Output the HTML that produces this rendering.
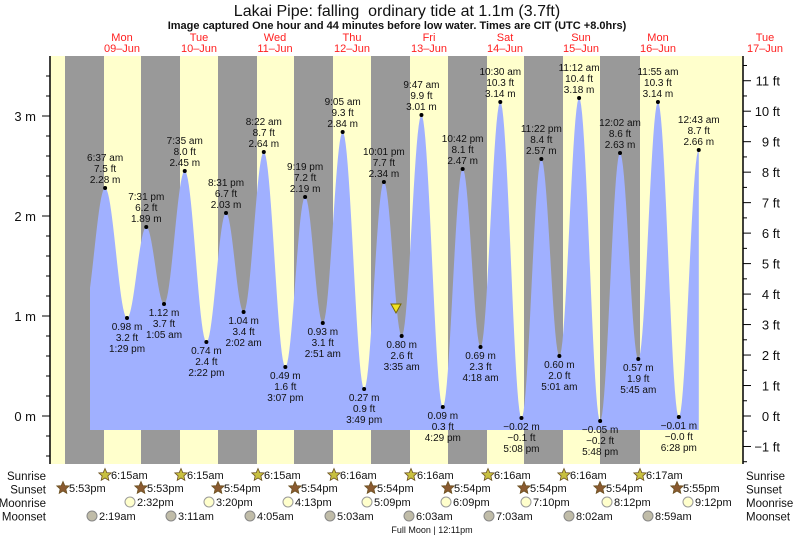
<!DOCTYPE html>
<html><head><meta charset="utf-8">
<style>
body{margin:0;background:#fff;}
svg{display:block;font-family:"Liberation Sans",sans-serif;}
</style></head>
<body>
<svg id="s" width="793" height="538" xmlns="http://www.w3.org/2000/svg">
<g id="bands"></g>
<path id="tide" fill="#a0b0ff" stroke="none"/>
<g id="lbl" font-size="10" fill="#111" text-anchor="middle"></g>
<polygon points="391,304 401,304 396,313" fill="#f0e020" stroke="#776600" stroke-width="1"/>
<g id="axes"></g>
<text x="397" y="16" font-size="16" text-anchor="middle" fill="#111">Lakai Pipe: falling&#160; ordinary tide at 1.1m (3.7ft)</text>
<text x="397" y="29" font-size="11" font-weight="bold" text-anchor="middle" fill="#111">Image captured One hour and 44 minutes before low water. Times are CIT (UTC +8.0hrs)</text>
<g id="days" font-size="11" fill="#ff2020" text-anchor="middle"></g>
<g id="bot" font-size="11" fill="#111"></g>
</svg>
<script>
var NS="http://www.w3.org/2000/svg";
function el(p,t,a,txt){var e=document.createElementNS(NS,t);for(var k in a)e.setAttribute(k,a[k]);if(txt!==undefined)e.textContent=txt;document.getElementById(p).appendChild(e);return e;}
el('bands','rect',{x:50,y:56,width:693,height:408,fill:'#ffffcc'});
[[65,104],[141,180],[218,257],[294,333],[371,410],[448,487],[524,563],[600,640]].forEach(function(b){el('bands','rect',{x:b[0],y:56,width:b[1]-b[0],height:408,fill:'#999999'});});
function X(h,m,d){return 84+(d*24+h+m/60)*3.19;}
var E=[
[6,37,0,2.28,'6:37 am','7.5 ft'],[13,29,0,0.98,'1:29 pm','3.2 ft'],[19,31,0,1.89,'7:31 pm','6.2 ft'],
[1,5,1,1.12,'1:05 am','3.7 ft'],[7,35,1,2.45,'7:35 am','8.0 ft'],[14,22,1,0.74,'2:22 pm','2.4 ft'],[20,31,1,2.03,'8:31 pm','6.7 ft'],
[2,2,2,1.04,'2:02 am','3.4 ft'],[8,22,2,2.64,'8:22 am','8.7 ft'],[15,7,2,0.49,'3:07 pm','1.6 ft'],[21,19,2,2.19,'9:19 pm','7.2 ft'],
[2,51,3,0.93,'2:51 am','3.1 ft'],[9,5,3,2.84,'9:05 am','9.3 ft'],[15,49,3,0.27,'3:49 pm','0.9 ft'],[22,1,3,2.34,'10:01 pm','7.7 ft'],
[3,35,4,0.80,'3:35 am','2.6 ft'],[9,47,4,3.01,'9:47 am','9.9 ft'],[16,29,4,0.09,'4:29 pm','0.3 ft'],[22,42,4,2.47,'10:42 pm','8.1 ft'],
[4,18,5,0.69,'4:18 am','2.3 ft'],[10,30,5,3.14,'10:30 am','10.3 ft'],[17,8,5,-0.02,'5:08 pm','\u22120.1 ft'],[23,22,5,2.57,'11:22 pm','8.4 ft'],
[5,1,6,0.60,'5:01 am','2.0 ft'],[11,12,6,3.18,'11:12 am','10.4 ft'],[17,48,6,-0.05,'5:48 pm','\u22120.2 ft'],
[0,2,7,2.63,'12:02 am','8.6 ft'],[5,45,7,0.57,'5:45 am','1.9 ft'],[11,55,7,3.14,'11:55 am','10.3 ft'],[18,28,7,-0.01,'6:28 pm','\u22120.0 ft'],
[0,43,8,2.66,'12:43 am','8.7 ft']];
function Y(m){return 416-m*100;}
var pts=[];
var x0=90,xa=X(E[0][0],E[0][1],E[0][2]);
var prevLowX=xa-(X(13,29,0)-xa);
for(var x=x0;x<=xa;x+=1){var f=(x-prevLowX)/(xa-prevLowX);var m=1.0+(2.28-1.0)*(1-Math.cos(Math.PI*f))/2;pts.push([x,Y(m)]);}
for(var i=0;i<E.length-1;i++){var a=E[i],b=E[i+1];var xa1=X(a[0],a[1],a[2]),xb=X(b[0],b[1],b[2]);
for(var x=xa1;x<=xb;x+=1){var f=(x-xa1)/(xb-xa1);var m=a[3]+(b[3]-a[3])*(1-Math.cos(Math.PI*f))/2;pts.push([x,Y(m)]);}}
var xl=X(0,43,8);pts.push([xl,Y(2.66)]);
var d='M'+x0+',430 ';pts.forEach(function(p){d+='L'+p[0].toFixed(1)+','+p[1].toFixed(1)+' ';});d+='L'+xl.toFixed(1)+',430 Z';
document.getElementById('tide').setAttribute('d',d);
E.forEach(function(e,i){var x=X(e[0],e[1],e[2]),y=Y(e[3]);el('lbl','circle',{cx:x,cy:y,r:2,fill:'#000'});
var ms=(e[3]<0?'\u2212'+(-e[3]).toFixed(2):e[3].toFixed(2))+' m';
var high=(i%2==0);
if(high){el('lbl','text',{x:x,y:y-5},ms);el('lbl','text',{x:x,y:y-16},e[5]);el('lbl','text',{x:x,y:y-27},e[4]);}
else{el('lbl','text',{x:x,y:y+12},ms);el('lbl','text',{x:x,y:y+23},e[5]);el('lbl','text',{x:x,y:y+34},e[4]);}});
el('axes','line',{x1:50,y1:56,x2:50,y2:464,stroke:'#000','stroke-width':1.5});
el('axes','line',{x1:743,y1:56,x2:743,y2:464,stroke:'#000','stroke-width':1.5});
for(var m=-0.4;m<=3.6;m+=0.2){var y=Y(m);var maj=Math.abs(m-Math.round(m))<0.01;el('axes','line',{x1:maj?42:46,y1:y,x2:50,y2:y,stroke:'#000'});
if(maj)el('axes','text',{x:36,y:y+5,'font-size':13,'text-anchor':'end',fill:'#111'},Math.round(m)+' m');}
for(var f=-1.5;f<=11.5;f+=0.5){var y=416-f*30.48;var maj=Math.abs(f-Math.round(f))<0.01;el('axes','line',{x1:743,y1:y,x2:maj?751:747,y2:y,stroke:'#000'});
if(maj)el('axes','text',{x:780,y:y+5,'font-size':13,'text-anchor':'end',fill:'#111'},(f<0?'\u2212'+(-f):f)+' ft');}
[['Mon','09\u2013Jun',122],['Tue','10\u2013Jun',199],['Wed','11\u2013Jun',275],['Thu','12\u2013Jun',352],['Fri','13\u2013Jun',429],['Sat','14\u2013Jun',505],['Sun','15\u2013Jun',581],['Mon','16\u2013Jun',658],['Tue','17\u2013Jun',765]].forEach(function(d){el('days','text',{x:d[2],y:41},d[0]);el('days','text',{x:d[2],y:52},d[1]);});
['Sunrise','Sunset','Moonrise','Moonset'].forEach(function(t,i){var y=480+i*13.5;el('bot','text',{x:46,y:y,'text-anchor':'end','font-size':11.5},t);el('bot','text',{x:746,y:y,'font-size':11.5},t);});
function star(cx,cy,fill){var p='';for(var k=0;k<10;k++){var r=k%2?3:6.5,a=-Math.PI/2+k*Math.PI/5;p+=(cx+r*Math.cos(a)).toFixed(1)+','+(cy+r*Math.sin(a)).toFixed(1)+' ';}el('bot','polygon',{points:p,fill:fill,stroke:'#6a5020','stroke-width':0.8});}
[105,181,258,334,411,488,564,640].forEach(function(x,i){star(x,475,'#c8c040');el('bot','text',{x:x+6,y:479},['6:15am','6:15am','6:15am','6:16am','6:16am','6:16am','6:16am','6:17am'][i]);});
[63,141,218,295,371,448,524,600,677].forEach(function(x,i){star(x,488,'#8a5a30');el('bot','text',{x:x+6,y:492},['5:53pm','5:53pm','5:54pm','5:54pm','5:54pm','5:54pm','5:54pm','5:54pm','5:55pm'][i]);});
[130,209,288,367,446,526,607,688].forEach(function(x,i){el('bot','circle',{cx:x,cy:502,r:5,fill:'#ffffcc',stroke:'#999'});el('bot','text',{x:x+7,y:506},['2:32pm','3:20pm','4:13pm','5:09pm','6:09pm','7:10pm','8:12pm','9:12pm'][i]);});
[92,171,250,330,409,489,569,648].forEach(function(x,i){el('bot','circle',{cx:x,cy:516,r:5,fill:'#c0bca8',stroke:'#888'});el('bot','text',{x:x+7,y:520},['2:19am','3:11am','4:05am','5:03am','6:03am','7:03am','8:02am','8:59am'][i]);});
el('bot','text',{x:432,y:533,'font-size':9,'text-anchor':'middle'},'Full Moon | 12:11pm');
</script>
</body></html>
